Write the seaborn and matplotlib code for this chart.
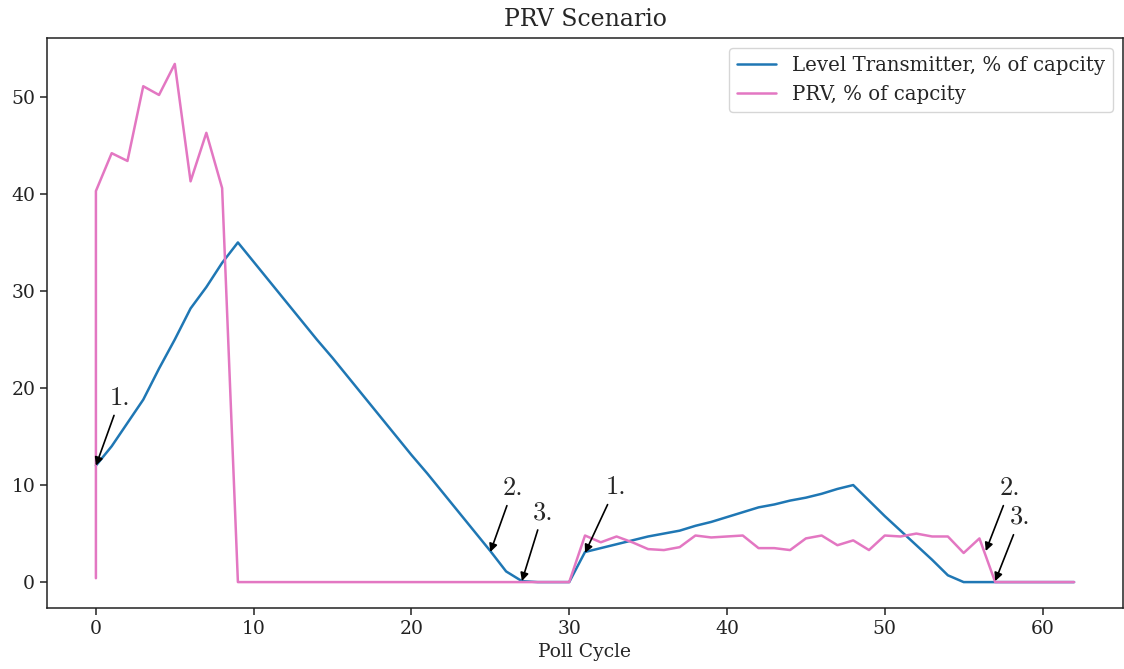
import matplotlib
matplotlib.use("Agg")
import matplotlib.pyplot as plt
import seaborn as sns
import pandas as pd

# ---- data ----
poll_cycle = [0, 0, 1, 2, 3, 4, 5, 6, 7, 8, 9, 10, 11, 12, 13, 14, 15, 16, 17, 18, 19,
              20, 21, 22, 23, 24, 25, 26, 27, 28, 29, 30, 31, 32, 33, 34, 35, 36, 37, 38,
              39, 40, 41, 42, 43, 44, 45, 46, 47, 48, 49, 50, 51, 52, 53, 54, 55, 56, 57,
              58, 59, 60, 61, 62]

level_pct = [12.0, 12.0, 14.0, 16.4, 18.8, 22.0, 25.0, 28.2, 30.4, 32.9, 35.0,
             33.0, 31.0, 29.0, 27.0, 25.0, 23.1, 21.1, 19.1, 17.1, 15.1,
             13.1, 11.2, 9.2, 7.2, 5.2, 3.2, 1.1, 0.1, 0.0, 0.0,
             0.0, 3.1, 3.5, 3.9, 4.3, 4.7, 5.0, 5.3, 5.8, 6.2,
             6.7, 7.2, 7.7, 8.0, 8.4, 8.7, 9.1, 9.6, 10.0, 8.4,
             6.8, 5.3, 3.8, 2.3, 0.7, 0.0, 0.0, 0.0, 0.0, 0.0,
             0.0, 0.0, 0.0]

prv_pct = [0.4, 40.3, 44.2, 43.4, 51.1, 50.2, 53.4, 41.3, 46.3, 40.6, 0.0,
           0.0, 0.0, 0.0, 0.0, 0.0, 0.0, 0.0, 0.0, 0.0, 0.0,
           0.0, 0.0, 0.0, 0.0, 0.0, 0.0, 0.0, 0.0, 0.0, 0.0,
           0.0, 4.8, 4.1, 4.7, 4.1, 3.4, 3.3, 3.6, 4.8, 4.6,
           4.7, 4.8, 3.5, 3.5, 3.3, 4.5, 4.8, 3.8, 4.3, 3.3,
           4.8, 4.7, 5.0, 4.7, 4.7, 3.0, 4.5, 0.0, 0.0, 0.0,
           0.0, 0.0, 0.0]

series_names = ["Level Transmitter, % of capcity", "PRV, % of capcity"]
series_colors = ["#1f77b4", "#e377c2"]

annot_labels = ["1.", "2.", "3.", "1.", "2.", "3."]
annot_xy = [(0, 12.0), (25, 3.1), (27, 0.1), (31, 3.0), (56.4, 3.2), (57, 0.1)]
annot_text_xy = [(0.9, 18.3), (25.8, 9.0), (27.7, 6.5), (32.3, 9.1), (57.3, 9.0), (57.95, 6.0)]

# ---- build table ----
df = pd.concat([
    pd.DataFrame({"Poll Cycle": poll_cycle, "value": level_pct, "series": series_names[0]}),
    pd.DataFrame({"Poll Cycle": poll_cycle, "value": prv_pct, "series": series_names[1]}),
], ignore_index=True)

sns.set_style("ticks")
plt.rcParams["font.family"] = ["DejaVu Serif"]
plt.rcParams["axes.edgecolor"] = "#222222"
plt.rcParams["xtick.color"] = "#222222"
plt.rcParams["ytick.color"] = "#222222"

fig = plt.figure(figsize=(11.24, 6.69), dpi=100)
ax = fig.add_axes([47 / 1124, 1 - 608 / 669, (1123 - 47) / 1124, (608 - 38) / 669])

sns.lineplot(data=df, x="Poll Cycle", y="value", hue="series", palette=series_colors,
             estimator=None, sort=False, units="series", linewidth=1.8, ax=ax)

for lab, xy, xt in zip(annot_labels, annot_xy, annot_text_xy):
    ax.annotate(lab, xy=xy, xytext=xt, fontsize=19, family=["cmr10", "DejaVu Serif"],
                arrowprops=dict(arrowstyle="-|>", color="black", lw=1.2,
                                mutation_scale=12, shrinkA=2, shrinkB=0))

ax.set_xlim(-3.1, 65.1)
ax.set_ylim(-2.67, 56.07)
ax.set_xticks([0, 10, 20, 30, 40, 50, 60])
ax.set_yticks([0, 10, 20, 30, 40, 50])
ax.tick_params(labelsize=13.5, length=5, width=1.1)
for s in ax.spines.values():
    s.set_linewidth(1.1)
ax.set_xlabel("Poll Cycle", fontsize=13.5, labelpad=4)
ax.set_ylabel("")
ax.set_title("PRV Scenario", fontsize=17, pad=9)

leg = ax.legend(loc="upper right", fontsize=14.2, frameon=True, handlelength=2.0)
leg.get_frame().set_edgecolor("#cccccc")

fig.savefig("out.png", dpi=100)
